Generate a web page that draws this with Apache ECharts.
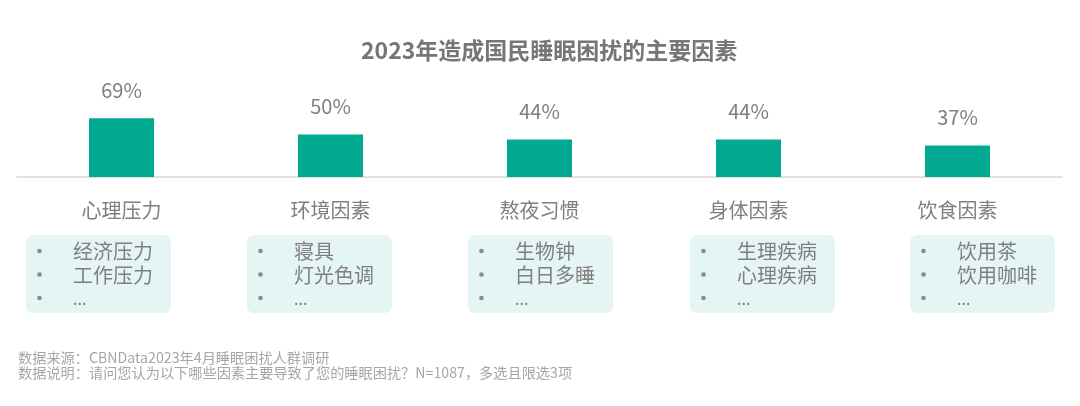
<!DOCTYPE html>
<html>
<head>
<meta charset="utf-8">
<script src="https://cdn.jsdelivr.net/npm/echarts@6/dist/echarts.min.js"></script>
<style>
html,body{margin:0;padding:0;background:#fff;}
#chart{width:1080px;height:406px;}
</style>
</head>
<body>
<div id="chart"></div>
<script>
const titleText = '2023年造成国民睡眠困扰的主要因素';
const categories = ['心理压力', '环境因素', '熬夜习惯', '身体因素', '饮食因素'];
const values = [69, 50, 44, 44, 37];
const details = [
  ['经济压力', '工作压力', '...'],
  ['寝具', '灯光色调', '...'],
  ['生物钟', '白日多睡', '...'],
  ['生理疾病', '心理疾病', '...'],
  ['饮用茶', '饮用咖啡', '...']
];
const notes = [
  '数据来源：CBNData2023年4月睡眠困扰人群调研',
  '数据说明：请问您认为以下哪些因素主要导致了您的睡眠困扰？N=1087，多选且限选3项'
];

const FONT = '"Noto Sans CJK SC", "Noto Sans", sans-serif';
const GRAY = '#7f7f7f';

const chart = echarts.init(document.getElementById('chart'));

// layout of annotation boxes (decoration, not data)
const boxLefts = [26, 247, 468, 690, 910];
const boxTop = 235, boxW = 145, boxH = 78;
const lineYs = [251.5, 275, 298.5];

const graphics = [];
details.forEach((items, i) => {
  const x0 = boxLefts[i];
  const children = [{
    type: 'rect',
    shape: {x: x0, y: boxTop, width: boxW, height: boxH, r: 7},
    style: {fill: '#e5f5f4'}
  }];
  items.forEach((t, j) => {
    children.push({
      type: 'circle',
      shape: {cx: x0 + 13.5, cy: lineYs[j] - 0.5, r: 2.3},
      style: {fill: '#8a8a8a'}
    });
    children.push({
      type: 'text',
      style: {
        x: x0 + 47, y: lineYs[j], text: t,
        font: (t === '...' ? '16px ' : '20px ') + FONT, fill: GRAY,
        textVerticalAlign: 'middle', textAlign: 'left'
      }
    });
  });
  graphics.push({type: 'group', children});
});
notes.forEach((t, k) => {
  graphics.push({
    type: 'text',
    style: {
      x: 18, y: 357.5 + k * 15.6, text: t,
      font: '14.2px ' + FONT, fill: '#a6a6a6',
      textVerticalAlign: 'middle', textAlign: 'left'
    }
  });
});

chart.setOption({
  animation: false,
  backgroundColor: '#ffffff',
  title: {
    text: titleText,
    left: 356,
    top: 34,
    textStyle: {fontFamily: FONT, fontSize: 23, fontWeight: 'bold', color: '#767676'}
  },
  grid: {left: 17, right: 18, top: 92, bottom: 229},
  xAxis: {
    type: 'category',
    data: categories,
    axisLine: {lineStyle: {color: '#d6d6d6', width: 1.5}},
    axisTick: {show: false},
    axisLabel: {margin: 23, fontFamily: FONT, fontSize: 20, color: GRAY}
  },
  yAxis: {
    type: 'value',
    min: 0, max: 100,
    show: false,
    splitLine: {show: false}
  },
  series: [{
    type: 'bar',
    data: values,
    barWidth: 65,
    itemStyle: {color: '#00a990'},
    label: {
      show: true,
      position: 'top',
      distance: 18,
      formatter: '{c}%',
      fontFamily: FONT,
      fontSize: 20,
      color: GRAY
    }
  }],
  graphic: graphics
});
</script>
</body>
</html>
